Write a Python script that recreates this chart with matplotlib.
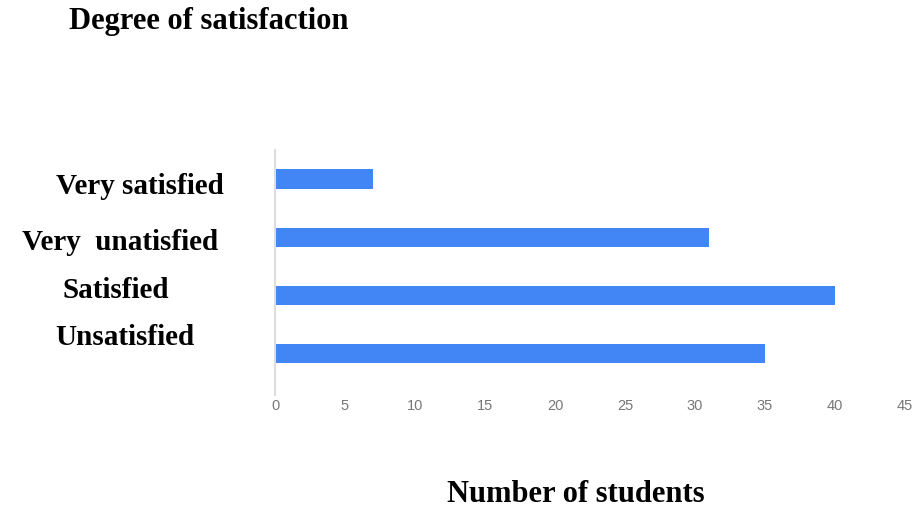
import matplotlib
matplotlib.use("Agg")
import matplotlib.pyplot as plt
import matplotlib.transforms as mtransforms

categories = ["Unsatisfied", "Satisfied", "Very  unatisfied", "Very satisfied"]
values = [35, 40, 31, 7]
xticks = [0, 5, 10, 15, 20, 25, 30, 35, 40, 45]

# label placement (pixel centres in figure) to mimic the reference's loose layout
label_x_px = [125, 116, 120, 140]
label_dy_px = [16, 5, -5, -7]

W, H = 921, 509
fig = plt.figure(figsize=(W / 100, H / 100), dpi=100)
ax = fig.add_axes([275 / W, 1 - 395 / H, 630 / W, 245 / H])

ypos = list(range(len(categories)))
ax.barh(ypos, values, height=0.33, color="#4285F4")
ax.set_xlim(0, 45)
ax.set_ylim(-0.72, 3.5)
ax.set_xticks(xticks)
ax.set_xticklabels([str(t) for t in xticks], fontsize=10.5, color="#777777",
                   family="Liberation Sans")
ax.tick_params(axis="x", length=0, pad=3)
ax.set_yticks([])
for s in ["top", "right", "bottom"]:
    ax.spines[s].set_visible(False)
ax.spines["left"].set_color("#dddddd")
ax.spines["left"].set_linewidth(1.5)

serif = dict(family="Liberation Serif", fontweight="bold", color="black")
for i, cat in enumerate(categories):
    tr = mtransforms.blended_transform_factory(
        fig.transFigure,
        ax.transData + mtransforms.ScaledTranslation(0, label_dy_px[i] / 100, fig.dpi_scale_trans))
    ax.text(label_x_px[i] / W, ypos[i], cat, transform=tr,
            ha="center", va="center", fontsize=21, **serif)

fig.text(209 / W, 1 - 22 / H, "Degree of satisfaction", ha="center", va="center", fontsize=22, **serif)
fig.text(576 / W, 1 - 495 / H, "Number of students", ha="center", va="center", fontsize=22, **serif)

fig.savefig("out.png", dpi=100)
